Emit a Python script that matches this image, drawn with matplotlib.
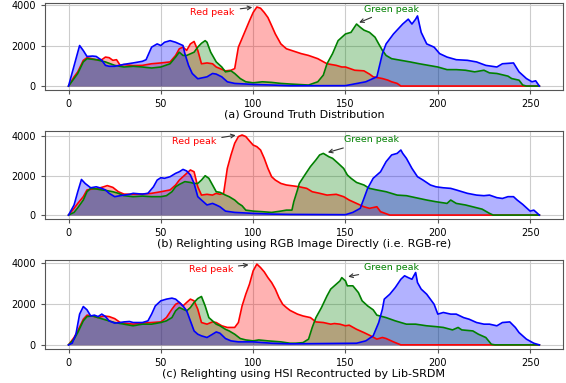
import matplotlib
matplotlib.use("Agg")
import matplotlib.pyplot as plt

# (a) Ground truth
a_red_x = [0, 3, 5, 8, 10, 15, 18, 20, 22, 24, 26, 28, 30, 35, 40, 45, 50, 55, 58, 60, 62, 64, 66, 68, 70, 72, 75, 78, 80, 85, 88, 90,
           92, 95, 98, 100, 102, 104, 106, 108, 110, 112, 115, 118, 122, 126, 130, 135, 140, 145, 148, 150, 155, 160, 163, 165,
           170, 173, 175, 178, 180, 255]
a_red_y = [0, 455, 700, 1270, 1400, 1300, 1300, 1430, 1400, 1270, 1300, 1020, 1060, 1010, 1020, 1100, 1140, 1190, 1510, 1840, 1920,
           1760, 2080, 2200, 1760, 1100, 1140, 1100, 940, 750, 780, 860,
           1920, 2570, 3220, 3630, 3900, 3840, 3630, 3380, 2980, 2570, 2080, 1840, 1720, 1600, 1510, 1350, 1100, 1020, 940, 940,
           780, 750, 590, 455, 370, 290, 210, 130, 0, 0]
a_green_x = [0, 3, 5, 8, 10, 15, 20, 25, 30, 35, 40, 45, 50, 55, 58, 60, 62, 64, 68, 70, 72, 74, 75, 77, 80, 83, 85, 88, 90, 93, 96,
             100, 105, 110, 115, 120, 130, 135, 138, 140, 143, 146, 150, 153, 156, 158, 160, 163, 166, 168, 170, 172, 175, 180,
             185, 190, 195, 200, 205, 210, 215, 220, 225, 228, 232, 238, 240, 244, 246, 248, 255]
a_green_y = [0, 370, 620, 1190, 1350, 1300, 1190, 1020, 940, 975, 940, 890, 940, 1100, 1430, 1670, 1510, 1510, 1670, 1920, 2110,
             2240, 2160, 1670, 1190, 940, 700, 750, 620, 370, 210,
             160, 210, 180, 130, 100, 50, 210, 540, 1100, 1600, 2240, 2570, 2650, 3060, 2900, 2760, 2650, 2410, 2080, 1760, 1510,
             1350, 1270, 1190, 1100, 1020, 940, 810, 810, 780, 700, 780, 650, 620, 490, 370, 290, 50, 0, 0]
a_blue_x = [0, 6, 8, 10, 13, 15, 18, 20, 22, 25, 30, 35, 40, 42, 45, 48, 50, 52, 55, 58, 60, 62, 63, 65, 67, 70, 75, 78, 80, 83, 86,
            90, 100, 110, 120, 150, 161, 167, 170, 172, 176, 181, 184, 186, 188, 189, 191, 194, 198, 201, 205, 210, 216, 221,
            226, 232, 235, 241, 244, 248, 251, 253, 255]
a_blue_y = [0, 2000, 1750, 1460, 1480, 1460, 1270, 1020, 975, 975, 1070, 1140, 1220, 1300, 1920, 2080, 2000, 2160, 2240, 2160,
            2080, 2000, 1600, 1020, 620, 360, 455, 620, 590, 455, 210,
            130, 80, 50, 16, 20, 210, 455, 1600, 2080, 2570, 3060, 3300, 3060, 3300, 3460, 2650, 2080, 1920, 1600, 1430, 1300,
            1270, 1190, 1020, 940, 1100, 1140, 700, 370, 210, 260, 0]

# (b) Relighting using RGB image directly
b_red_x = [0, 3, 5, 8, 10, 13, 16, 19, 21, 24, 27, 30, 35, 40, 45, 50, 55, 58, 60, 62, 64, 66, 68, 70, 72, 75, 78, 80, 82, 84, 86,
           88, 90, 92, 94, 96, 98, 100, 102, 104, 106, 108, 110, 112, 115, 118, 122, 125, 129, 132, 136, 140, 145, 149, 152,
           156, 160, 163, 167, 169, 174, 255]
b_red_y = [0, 340, 590, 930, 1270, 1320, 1350, 1430, 1490, 1400, 1180, 1060, 1050, 1060, 1100, 1180, 1270, 1520, 1770, 1940,
           2110, 2280, 2190, 1430, 1010, 1050, 1010, 1100, 1050, 1100, 2360,
           3040, 3630, 3970, 4050, 3970, 3750, 3540, 3460, 3290, 2870, 2360, 1940, 1770, 1600, 1520, 1470, 1430, 1350, 1180,
           1100, 1010, 1050, 930, 760, 590, 420, 340, 420, 170, 0, 0]
b_green_x = [0, 3, 5, 8, 10, 12, 15, 18, 20, 24, 27, 30, 35, 40, 45, 50, 53, 56, 58, 60, 63, 66, 68, 70, 72, 74, 76, 78, 80, 82,
             85, 87, 90, 92, 94, 96, 100, 105, 110, 115, 118, 121, 122, 124, 125, 128, 131, 134, 136, 138, 141, 143, 146, 149,
             151, 153, 156, 160, 163, 167, 172, 178, 183, 188, 194, 199, 205, 207, 210, 215, 221, 224, 228, 230, 255]
b_green_y = [0, 135, 370, 760, 1180, 1350, 1320, 1270, 1250, 1180, 1100, 980, 930, 960, 930, 930, 980, 1180, 1430, 1550, 1690,
             1650, 1600, 1600, 1770, 1990, 1860, 1520, 1180, 1150,
             1010, 930, 760, 590, 470, 250, 200, 170, 135, 200, 250, 250, 675, 1270, 1600, 2030, 2450, 2790, 3040, 3120, 2950,
             2870, 2620, 2360, 2030, 1860, 1650, 1520, 1350, 1270, 1180, 1010, 980, 880, 760, 675, 590, 760, 590, 510, 370, 300,
             85, 0, 0]
b_blue_x = [0, 3, 5, 7, 9, 12, 15, 18, 20, 22, 25, 28, 30, 33, 35, 40, 43, 46, 48, 50, 52, 55, 58, 60, 62, 64, 66, 68, 70, 72, 75,
            78, 80, 82, 85, 90, 100, 110, 120, 150, 154, 158, 160, 162, 165, 169, 172, 175, 178, 180, 181, 183, 186, 189, 192,
            196, 199, 203, 207, 210, 216, 221, 225, 228, 232, 235, 238, 241, 243, 246, 250, 252, 255]
b_blue_y = [0, 510, 1180, 1800, 1600, 1380, 1430, 1350, 1270, 1100, 930, 980, 1010, 1050, 1100, 1060, 1100, 1430, 1770, 1890,
            1860, 1940, 2110, 2190, 2310, 2230, 2030, 1600, 930, 760, 510,
            590, 510, 420, 200, 135, 85, 50, 34, 20, 135, 340, 840, 1350, 1860, 2190, 2700, 3040, 3120, 3290, 3120, 2870, 2360,
            1940, 1770, 1520, 1430, 1380, 1350, 1270, 1100, 1010, 980, 1010, 880, 840, 930, 930, 760, 540, 200, 250, 0]

# (c) Relighting using HSI reconstructed by Lib-SRDM
c_red_x = [0, 3, 5, 8, 10, 13, 16, 19, 22, 25, 28, 30, 35, 40, 45, 50, 53, 56, 58, 60, 62, 64, 66, 68, 70, 72, 75, 78, 80, 83, 86,
           90, 92, 94, 96, 98, 100, 102, 104, 106, 108, 110, 112, 114, 116, 118, 120, 124, 127, 131, 134, 138, 142, 144, 147,
           150, 152, 156, 160, 163, 167, 170, 172, 176, 180, 255]
c_red_y = [0, 360, 680, 1250, 1450, 1410, 1330, 1410, 1380, 1280, 1090, 1060, 1010, 1060, 1090, 1120, 1330, 1740, 1980, 2070,
           1900, 2070, 2230, 2150, 1740, 1090, 1010, 1120, 1090, 930, 850,
           850, 1090, 1900, 2470, 2960, 3610, 3940, 3770, 3560, 3280, 3040, 2720, 2300, 1980, 1820, 1680, 1500, 1410, 1330,
           1120, 1090, 1010, 1040, 1010, 930, 960, 760, 600, 470, 280, 360, 310, 146, 0, 0]
c_green_x = [0, 3, 5, 8, 10, 13, 16, 20, 25, 30, 35, 40, 45, 50, 53, 56, 58, 60, 62, 64, 66, 68, 70, 72, 74, 76, 78, 80, 82, 85,
             87, 90, 93, 96, 100, 103, 108, 115, 120, 123, 127, 130, 132, 134, 137, 140, 142, 145, 147, 148, 150, 151, 154, 157,
             159, 162, 165, 167, 172, 177, 183, 188, 194, 199, 203, 208, 211, 213, 219, 222, 226, 229, 231, 255]
c_green_y = [0, 280, 600, 1170, 1380, 1410, 1330, 1220, 1090, 1010, 930, 1010, 1010, 1090, 1170, 1330, 1660, 1820, 1740, 1660,
             1820, 2070, 2260, 2360, 1900, 1330, 1170, 1010, 930, 760,
             680, 520, 310, 240, 195, 240, 195, 146, 80, 80, 110, 280, 850, 1330, 1820, 2390, 2720, 2960, 3120, 3280, 3120, 2880,
             2880, 2550, 2150, 1900, 1710, 1450, 1330, 1170, 1010, 1010, 930, 890, 850, 730, 850, 730, 680, 520, 360, 30, 0, 0]
c_blue_x = [0, 2, 4, 6, 8, 10, 12, 14, 16, 18, 20, 22, 25, 28, 30, 33, 35, 40, 43, 45, 47, 50, 53, 56, 58, 60, 62, 64, 66, 68, 70,
            72, 75, 78, 80, 82, 85, 88, 92, 100, 110, 120, 156, 161, 165, 168, 170, 171, 174, 177, 180, 182, 184, 186, 188, 189,
            191, 194, 198, 200, 203, 207, 210, 214, 217, 221, 225, 228, 232, 235, 239, 242, 244, 248, 252, 255]
c_blue_y = [0, 80, 520, 1500, 1870, 1710, 1410, 1450, 1380, 1500, 1380, 1170, 1060, 1090, 1120, 1140, 1090, 1090, 1170, 1500,
            1900, 2150, 2230, 2280, 2230, 2070, 1900, 1660, 1170, 680, 520,
            440, 360, 520, 630, 570, 310, 195, 146, 146, 80, 50, 80, 195, 440, 1090, 1740, 2230, 2470, 2800, 3200, 3370, 3280,
            3200, 3530, 3040, 2720, 2470, 1980, 1500, 1580, 1500, 1500, 1330, 1250, 1090, 1010, 1010, 930, 1090, 1120, 850, 600,
            280, 80, 0]

panels = [
    ("(a) Ground Truth Distribution", (a_red_x, a_red_y), (a_green_x, a_green_y), (a_blue_x, a_blue_y)),
    ("(b) Relighting using RGB Image Directly (i.e. RGB-re)", (b_red_x, b_red_y), (b_green_x, b_green_y), (b_blue_x, b_blue_y)),
    ("(c) Relighting using HSI Recontructed by Lib-SRDM", (c_red_x, c_red_y), (c_green_x, c_green_y), (c_blue_x, c_blue_y)),
]

# annotation anchors (peak, text) per panel
red_notes = [((101, 3900), (78, 3650)), ((92, 4060), (68, 3700)), ((99, 3920), (77, 3700))]
green_notes = [((156, 3080), (175, 3800)), ((139, 3130), (164, 3800)), ((150, 3300), (175, 3750))]

fig = plt.figure(figsize=(5.66, 3.83), dpi=100)
boxes = [(0.0795, 0.765, 0.915, 0.227), (0.0795, 0.428, 0.915, 0.230), (0.0795, 0.089, 0.915, 0.232)]

for box, (label, r, g, b), rn, gn in zip(boxes, panels, red_notes, green_notes):
    ax = fig.add_axes(box)
    for (x, y), col in [(r, 'red'), (g, 'green'), (b, 'blue')]:
        ax.fill_between(x, y, color=col, alpha=0.3, linewidth=0)
        ax.plot(x, y, color=col, linewidth=1.2)
    ax.annotate("Red peak", xy=rn[0], xytext=rn[1], color='red', fontsize=6.8, ha='center', va='center',
                arrowprops=dict(arrowstyle='->', color='#333333', lw=0.8))
    ax.annotate("Green peak", xy=gn[0], xytext=gn[1], color='green', fontsize=6.8, ha='center', va='center',
                arrowprops=dict(arrowstyle='->', color='#333333', lw=0.8))
    ax.set_xticks([0, 50, 100, 150, 200, 250])
    ax.set_yticks([0, 2000, 4000])
    ax.tick_params(labelsize=7, length=3, color='#555555')
    ax.grid(True, color='#cccccc', linewidth=0.8)
    ax.set_axisbelow(True)
    for s in ax.spines.values():
        s.set_color('#555555')
    ax.set_xlabel(label, fontsize=8, labelpad=0.5)

fig.savefig("out.png", dpi=100)
